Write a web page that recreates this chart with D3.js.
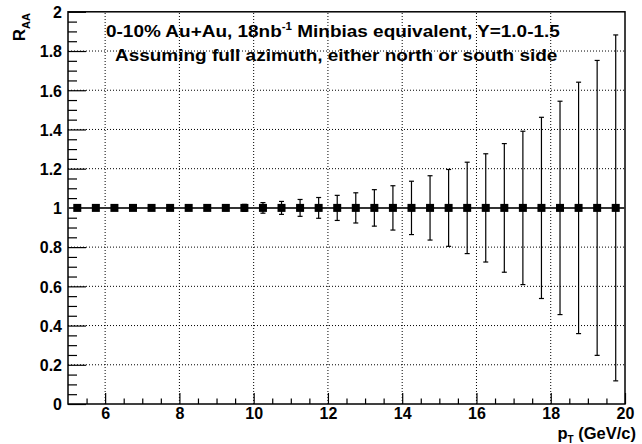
<!DOCTYPE html>
<html><head><meta charset="utf-8">
<script src="https://cdn.jsdelivr.net/npm/d3@7"></script>
<style>body{margin:0;background:#fff}svg{display:block}text{font-family:"Liberation Sans",Arial,Helvetica,sans-serif;font-weight:bold}</style>
</head><body><svg id="c" width="642" height="444"></svg>
<script>
const pt = [5.25,5.75,6.25,6.75,7.25,7.75,8.25,8.75,9.25,9.75,10.25,10.75,11.25,11.75,12.25,12.75,13.25,13.75,14.25,14.75,15.25,15.75,16.25,16.75,17.25,17.75,18.25,18.75,19.25,19.75];
const raa = [1,1,1,1,1,1,1,1,1,1,1,1,1,1,1,1,1,1,1,1,1,1,1,1,1,1,1,1,1,1];
const err = [0.003,0.004,0.004,0.005,0.006,0.007,0.009,0.011,0.014,0.018,0.027,0.033,0.043,0.053,0.064,0.077,0.093,0.113,0.136,0.164,0.196,0.233,0.276,0.328,0.391,0.462,0.544,0.641,0.752,0.882];
const xTicks = [6,8,10,12,14,16,18,20];
const yTicks = [0,0.2,0.4,0.6,0.8,1,1.2,1.4,1.6,1.8,2];
const yTickLabels = ["0","0.2","0.4","0.6","0.8","1","1.2","1.4","1.6","1.8","2"];
const titleLines = ["Assuming full azimuth, either north or south side"];

const svg = d3.select("#c");
const L=68, R=625, T=11.8, B=404;
const x = d3.scaleLinear().domain([5,20]).range([L,R]);
const y = d3.scaleLinear().domain([0,2]).range([B,T]);

// grid
const g = svg.append("g");
g.selectAll(".gx").data(xTicks.filter(d=>d<20)).enter().append("line")
 .attr("x1",d=>x(d)).attr("x2",d=>x(d)).attr("y1",B).attr("y2",T)
 .attr("stroke","#000").attr("stroke-width",1).attr("stroke-dasharray","1,2");
g.selectAll(".gy").data(yTicks.filter(d=>d>0&&d<2)).enter().append("line")
 .attr("x1",L).attr("x2",R).attr("y1",d=>y(d)).attr("y2",d=>y(d))
 .attr("stroke","#000").attr("stroke-width",1).attr("stroke-dasharray","1,2");

// axes
const xMinor = d3.range(5.5,20,0.5).filter(v=>Math.abs(v/2-Math.round(v/2))>1e-6);
const yMinor = d3.range(0.05,2,0.05).filter(v=>Math.abs(v/0.2-Math.round(v/0.2))>1e-6);
const xa = svg.append("g").attr("transform",`translate(0,${B})`);
xa.call(d3.axisBottom(x).tickValues(xTicks).tickSize(-11).tickPadding(0).tickFormat(d3.format("d")));
xa.append("g").call(d3.axisBottom(x).tickValues(xMinor).tickSize(-5.5).tickFormat(""));
const ya = svg.append("g").attr("transform",`translate(${L},0)`);
ya.call(d3.axisLeft(y).tickValues(yTicks).tickSize(-18).tickPadding(6).tickFormat((d,i)=>yTickLabels[i]));
ya.append("g").call(d3.axisLeft(y).tickValues(yMinor).tickSize(-9).tickFormat(""));
svg.selectAll(".domain").remove();
svg.selectAll(".tick line").attr("stroke","#000").attr("stroke-width",1.2);
xa.selectAll("text").attr("font-size",16).attr("fill","#000").attr("dy","0.95em");
ya.selectAll("text").attr("font-size",16).attr("fill","#000").attr("dy","0.36em");
// frame
svg.append("rect").attr("x",L).attr("y",T).attr("width",R-L).attr("height",B-T)
 .attr("fill","none").attr("stroke","#000").attr("stroke-width",1.5);

// reference line at 1
svg.append("line").attr("x1",x(5)).attr("x2",x(20)).attr("y1",y(1)).attr("y2",y(1))
 .attr("stroke","#333").attr("stroke-width",2);

// error bars
const eb = svg.append("g");
pt.forEach((p,i)=>{
  const cx=x(p), y0=y(raa[i]-err[i]), y1=y(raa[i]+err[i]);
  eb.append("line").attr("x1",cx).attr("x2",cx).attr("y1",y0).attr("y2",y1).attr("stroke","#000").attr("stroke-width",1.2);
  [y0,y1].forEach(yy=>eb.append("line").attr("x1",cx-2.5).attr("x2",cx+2.5).attr("y1",yy).attr("y2",yy).attr("stroke","#000").attr("stroke-width",1.2));
});
// markers
svg.selectAll(".m").data(pt).enter().append("rect")
 .attr("x",d=>x(d)-4).attr("y",(d,i)=>y(raa[i])-4).attr("width",8).attr("height",8).attr("fill","#000");

// titles
const t1 = svg.append("text").attr("transform","translate(106,37) scale(1.15,1)").attr("font-size",16.5).attr("fill","#000");
t1.append("tspan").text("0-10% Au+Au, 18nb");
t1.append("tspan").attr("font-size",10).attr("dy",-7).text("-1");
t1.append("tspan").attr("dy",7).text(" Minbias equivalent, Y=1.0-1.5");
svg.append("text").attr("transform","translate(115,61) scale(1.15,1)").attr("font-size",16.5).attr("fill","#000").text(titleLines[0]);

// axis titles
const yt = svg.append("text").attr("transform","translate(25,13) rotate(-90)").attr("text-anchor","end").attr("font-size",17).attr("fill","#000");
yt.append("tspan").text("R");
yt.append("tspan").attr("font-size",11).attr("dy",5).text("AA");
const xt = svg.append("text").attr("x",636).attr("y",438.5).attr("text-anchor","end").attr("font-size",16.5).attr("fill","#000");
xt.append("tspan").text("p");
xt.append("tspan").attr("font-size",10).attr("dy",4).text("T");
xt.append("tspan").attr("dy",-4).text(" (GeV/c)");
</script></body></html>
